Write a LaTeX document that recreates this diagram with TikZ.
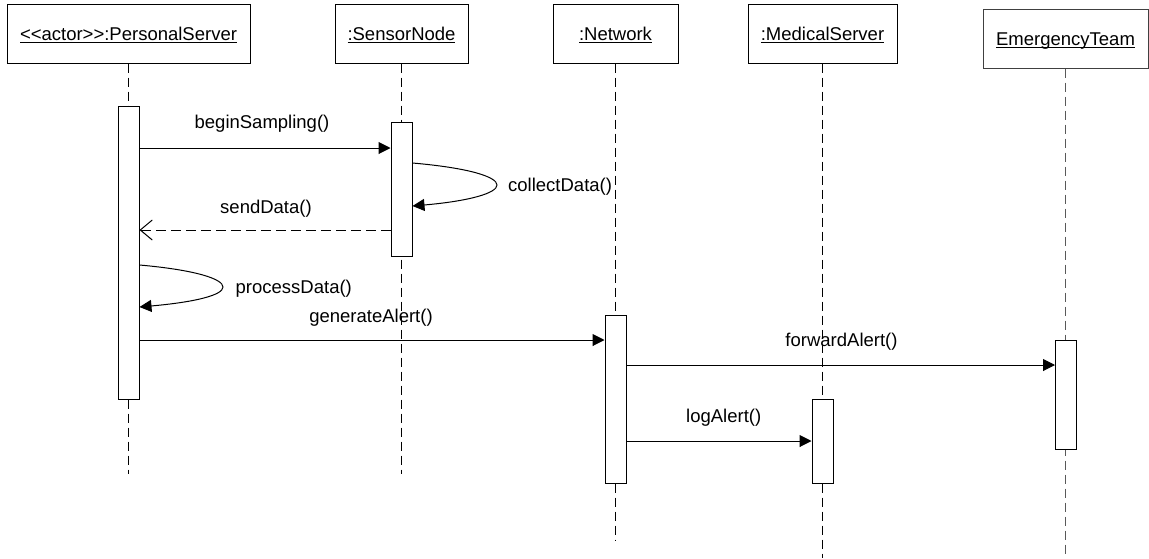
\documentclass[tikz,border=0pt]{standalone}
\usepackage{fontspec}
\setmainfont{Liberation Sans}
\usetikzlibrary{arrows.meta}
% underlined object name with the rule just below the baseline
\newcommand{\objname}[1]{\setbox0\hbox{#1}\rlap{\vrule height -1.8pt depth 2.9pt width \wd0}\box0}
\begin{document}
\begin{tikzpicture}[x=1pt, y=-1pt,
  font=\fontsize{18.5}{22}\selectfont,
  obj/.style={draw, line width=1pt, fill=white, inner sep=0pt, minimum height=59pt,
              text height=13.2pt, text depth=0pt},
  act/.style={draw, line width=1pt, fill=white, inner sep=0pt, minimum width=21pt, anchor=north},
  life/.style={line width=1pt, dash pattern=on 9pt off 5pt},
  msg/.style={line width=1pt, -{Triangle[length=12pt,width=12pt]}},
  reply/.style={line width=1pt, dash pattern=on 10pt off 5pt,
                -{Straight Barb[length=12pt,width=20pt]}},
  lbl/.style={inner sep=0pt, anchor=base},
  lblw/.style={inner sep=0pt, anchor=base west}]
\useasboundingbox (0,0) rectangle (1149,558);

% object heads
\node[obj, minimum width=243pt] (ps) at (128.5,33.5) {\objname{{<}{<}actor{>}{>}:PersonalServer}};
\node[obj, minimum width=133pt] (sn) at (401.5,33.5) {\objname{:SensorNode}};
\node[obj, minimum width=125pt] (nw) at (615.5,33.5) {\objname{:Network}};
\node[obj, minimum width=149pt] (ms) at (822.5,33.5) {\objname{:MedicalServer}};
\node[obj, minimum width=165pt, draw=black!75] (et) at (1065.5,38.5) {\objname{EmergencyTeam}};

% lifeline ends
\coordinate (psEnd) at (128.5,474);
\coordinate (snEnd) at (401.5,474);
\coordinate (nwEnd) at (615.5,540);
\coordinate (msEnd) at (822.5,558);
\coordinate (etEnd) at (1065.5,558);

\draw[life] (ps.south) -- (psEnd);
\draw[life] (sn.south) -- (snEnd);
\draw[life] (nw.south) -- (nwEnd);
\draw[life] (ms.south) -- (msEnd);
\draw[life, draw=black!65] (et.south) -- (etEnd);

% activation bars
\node[act, minimum height=293pt] (aps) at (128.5,105.5) {};
\node[act, minimum height=134pt] (asn) at (401.5,122) {};
\node[act, minimum height=168pt] (anw) at (615.5,315) {};
\node[act, minimum height=84pt]  (ams) at (822.5,399) {};
\node[act, minimum height=109pt] (aet) at (1066,340) {};

% message rows
\coordinate (r1) at (0,148);
\coordinate (r2a) at (0,163);
\coordinate (r2b) at (0,206);
\coordinate (r3) at (0,230);
\coordinate (r4a) at (0,265);
\coordinate (r4b) at (0,307);
\coordinate (r5) at (0,340);
\coordinate (r6) at (0,365);
\coordinate (r7) at (0,441);

% messages
\draw[msg] (aps.east |- r1) -- (asn.west |- r1);
\draw[msg] (asn.east |- r2a) .. controls (470,168) and (497,177) .. (497,185)
           .. controls (497,193) and (470,201) .. (asn.east |- r2b);
\draw[reply] (asn.west |- r3) -- (aps.east |- r3);
\draw[msg] (aps.east |- r4a) .. controls (196,270) and (223,279) .. (223,287)
           .. controls (223,295) and (196,302) .. (aps.east |- r4b);
\draw[msg] (aps.east |- r5) -- (anw.west |- r5);
\draw[msg] (anw.east |- r6) -- (aet.west |- r6);
\draw[msg] (anw.east |- r7) -- (ams.west |- r7);

% message labels
\node[lbl]  (l1) at (262,128.3) {beginSampling()};
\node[lblw] (l2) at (508,191.5) {collectData()};
\node[lbl]  (l3) at (266,213) {sendData()};
\node[lblw] (l4) at (235.5,293.5) {processData()};
\node[lbl]  (l5) at (371,322.5) {generateAlert()};
\node[lbl]  (l6) at (841.5,346.5) {forwardAlert()};
\node[lbl]  (l7) at (723.7,422.5) {logAlert()};
\end{tikzpicture}
\end{document}
